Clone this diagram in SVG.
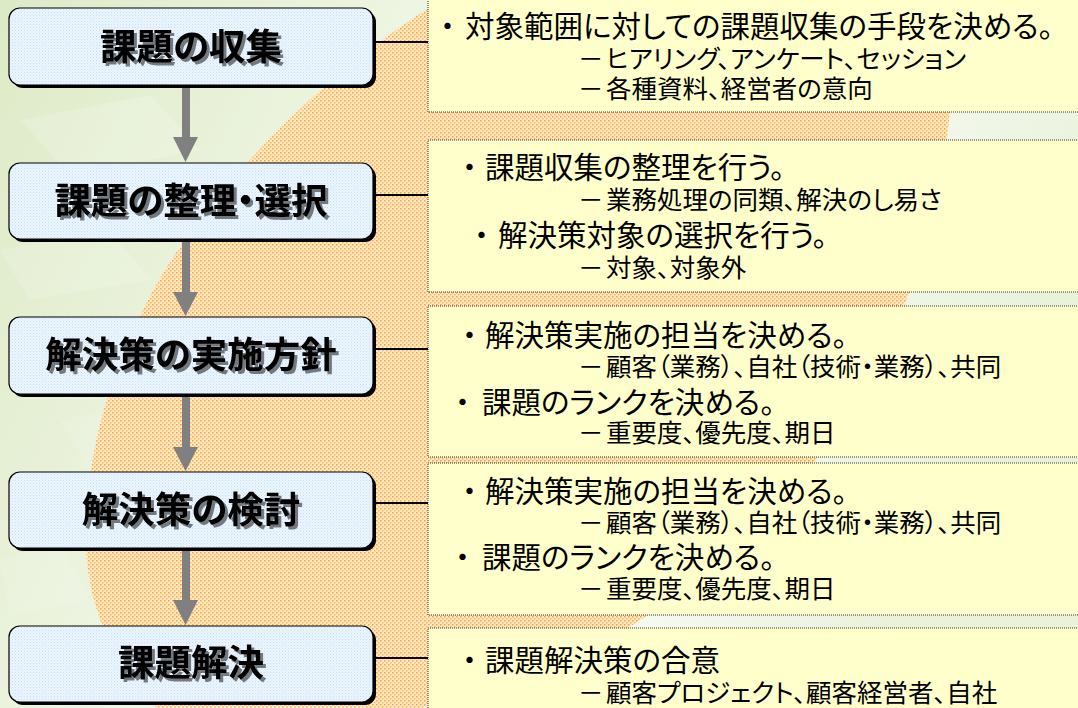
<svg xmlns="http://www.w3.org/2000/svg" width="1078" height="708" viewBox="0 0 1078 708">
<defs>
<style>
text{font-family:"Noto Sans CJK JP","Noto Sans CJK SC",sans-serif;font-feature-settings:"palt";}
.lbl{font-size:36.5px;font-weight:bold;text-anchor:middle;fill:#000;filter:url(#tsh);}
.m{font-size:29.5px;fill:#000;}
.s{font-size:25.5px;fill:#000;}
.box{fill:url(#bluedots);stroke:#000;stroke-width:1.2;}
.bsh{fill:#000;}
.panel{fill:#FFFFCC;stroke:#333;stroke-width:1;stroke-dasharray:1 1;}
.conn{stroke:#000;stroke-width:2;fill:none;}
.shaft{fill:#808080;}
</style>
<filter id="tsh" x="-5%" y="-20%" width="115%" height="150%">
<feOffset in="SourceAlpha" dx="2.5" dy="2.5" result="o"/>
<feComponentTransfer in="o" result="oa"><feFuncA type="linear" slope="0.5"/></feComponentTransfer>
<feMerge><feMergeNode in="oa"/><feMergeNode in="SourceGraphic"/></feMerge>
</filter>
<linearGradient id="bg" x1="0" y1="0" x2="1" y2="0.3">
<stop offset="0" stop-color="#DDEAC6"/>
<stop offset="0.35" stop-color="#EEF5E2"/>
<stop offset="0.8" stop-color="#F5F9EE"/>
<stop offset="1" stop-color="#EAF2DC"/>
</linearGradient>
<pattern id="orange" width="4" height="4" patternUnits="userSpaceOnUse">
<rect width="4" height="4" fill="#FFE9C6"/>
<rect x="0" y="0" width="1.5" height="1.5" fill="#FFA032"/>
<rect x="2" y="2" width="1.5" height="1.5" fill="#FFB552"/>
</pattern>
<pattern id="bluedots" width="3" height="3" patternUnits="userSpaceOnUse">
<rect width="3" height="3" fill="#EBF5FE"/>
<rect x="0" y="0" width="1" height="1" fill="#C6DFF5"/>
<rect x="1.5" y="1.5" width="1" height="1" fill="#D6E8F8"/>
</pattern>
</defs>

<g id="background">
<rect x="0" y="0" width="1078" height="708" fill="url(#bg)"/>
<polygon points="20,120 150,95 200,150 70,175" fill="#FFFFFF" opacity="0.18"/>
<polygon points="0,250 110,230 150,280 30,300" fill="#FFFFFF" opacity="0.15"/>
<polygon points="60,420 170,400 200,450 90,470" fill="#FFFFFF" opacity="0.12"/>
<polygon points="0,560 60,545 90,600 10,615" fill="#FFFFFF" opacity="0.12"/>
<path d="M 160 712 C 110 660, 84 600, 86 530 C 88 420, 130 320, 180 247 C 240 160, 340 60, 450 -5 L 949 -5 A 663 663 0 0 1 398 712 Z" fill="url(#orange)"/>
</g>

<g id="panel1">
<rect class="panel" x="428" y="-2" width="660" height="114"/>
<text class="m" y="37"><tspan x="440">・</tspan><tspan x="465">対象範囲に対しての課題収集の手段を決める。</tspan></text>
<text class="s" y="68"><tspan x="578">－</tspan><tspan x="606">ヒアリング、アンケート、セッション</tspan></text>
<text class="s" y="98"><tspan x="578">－</tspan><tspan x="606">各種資料、経営者の意向</tspan></text>
</g>

<g id="panel2">
<rect class="panel" x="428" y="140" width="660" height="152"/>
<text class="m" y="178"><tspan x="462">・</tspan><tspan x="485">課題収集の整理を行う。</tspan></text>
<text class="s" y="209"><tspan x="578">－</tspan><tspan x="606">業務処理の同類、解決のし易さ</tspan></text>
<text class="m" y="246"><tspan x="474">・</tspan><tspan x="498">解決策対象の選択を行う。</tspan></text>
<text class="s" y="277"><tspan x="578">－</tspan><tspan x="606">対象、対象外</tspan></text>
</g>

<g id="panel3">
<rect class="panel" x="428" y="306" width="660" height="151"/>
<text class="m" y="346"><tspan x="462">・</tspan><tspan x="485">解決策実施の担当を決める。</tspan></text>
<text class="s" y="376"><tspan x="578">－</tspan><tspan x="606">顧客（業務）、自社（技術・業務）、共同</tspan></text>
<text class="m" y="413"><tspan x="455">・</tspan><tspan x="482">課題のランクを決める。</tspan></text>
<text class="s" y="442"><tspan x="578">－</tspan><tspan x="606">重要度、優先度、期日</tspan></text>
</g>

<g id="panel4">
<rect class="panel" x="428" y="463" width="660" height="152"/>
<text class="m" y="502"><tspan x="462">・</tspan><tspan x="485">解決策実施の担当を決める。</tspan></text>
<text class="s" y="532"><tspan x="578">－</tspan><tspan x="606">顧客（業務）、自社（技術・業務）、共同</tspan></text>
<text class="m" y="568"><tspan x="455">・</tspan><tspan x="482">課題のランクを決める。</tspan></text>
<text class="s" y="598"><tspan x="578">－</tspan><tspan x="606">重要度、優先度、期日</tspan></text>
</g>

<g id="panel5">
<rect class="panel" x="428" y="628" width="660" height="90"/>
<text class="m" y="671"><tspan x="462">・</tspan><tspan x="485">課題解決策の合意</tspan></text>
<text class="s" y="702"><tspan x="578">－</tspan><tspan x="606">顧客プロジェクト、顧客経営者、自社</tspan></text>
</g>

<g id="connectors">
<line class="conn" x1="374" y1="42" x2="428" y2="42"/>
<line class="conn" x1="374" y1="195" x2="428" y2="195"/>
<line class="conn" x1="374" y1="349" x2="428" y2="349"/>
<line class="conn" x1="374" y1="503" x2="428" y2="503"/>
<line class="conn" x1="374" y1="658" x2="428" y2="658"/>
<rect class="shaft" x="182" y="86" width="8" height="52"/>
<polygon class="shaft" points="173,137 198,137 185.5,162"/>
<rect class="shaft" x="182" y="241" width="8" height="52"/>
<polygon class="shaft" points="173,292 198,292 185.5,316"/>
<rect class="shaft" x="182" y="396" width="8" height="52"/>
<polygon class="shaft" points="173,447 198,447 185.5,471"/>
<rect class="shaft" x="182" y="550" width="8" height="51"/>
<polygon class="shaft" points="173,600 198,600 185.5,625"/>
</g>

<g id="node1">
<rect class="bsh" x="12" y="11" width="364" height="77" rx="11"/>
<rect class="box" x="9" y="8" width="364" height="77" rx="11"/>
<text class="lbl" x="191" y="60">課題の収集</text>
</g>
<g id="node2">
<rect class="bsh" x="12" y="166" width="364" height="76" rx="11"/>
<rect class="box" x="9" y="163" width="364" height="76" rx="11"/>
<text class="lbl" x="191" y="214">課題の整理・選択</text>
</g>
<g id="node3">
<rect class="bsh" x="12" y="320" width="364" height="77" rx="11"/>
<rect class="box" x="9" y="317" width="364" height="77" rx="11"/>
<text class="lbl" x="191" y="368">解決策の実施方針</text>
</g>
<g id="node4">
<rect class="bsh" x="12" y="475" width="364" height="76" rx="11"/>
<rect class="box" x="9" y="472" width="364" height="76" rx="11"/>
<text class="lbl" x="191" y="523">解決策の検討</text>
</g>
<g id="node5">
<rect class="bsh" x="12" y="629" width="364" height="76" rx="11"/>
<rect class="box" x="9" y="626" width="364" height="76" rx="11"/>
<text class="lbl" x="191" y="676">課題解決</text>
</g>
</svg>
